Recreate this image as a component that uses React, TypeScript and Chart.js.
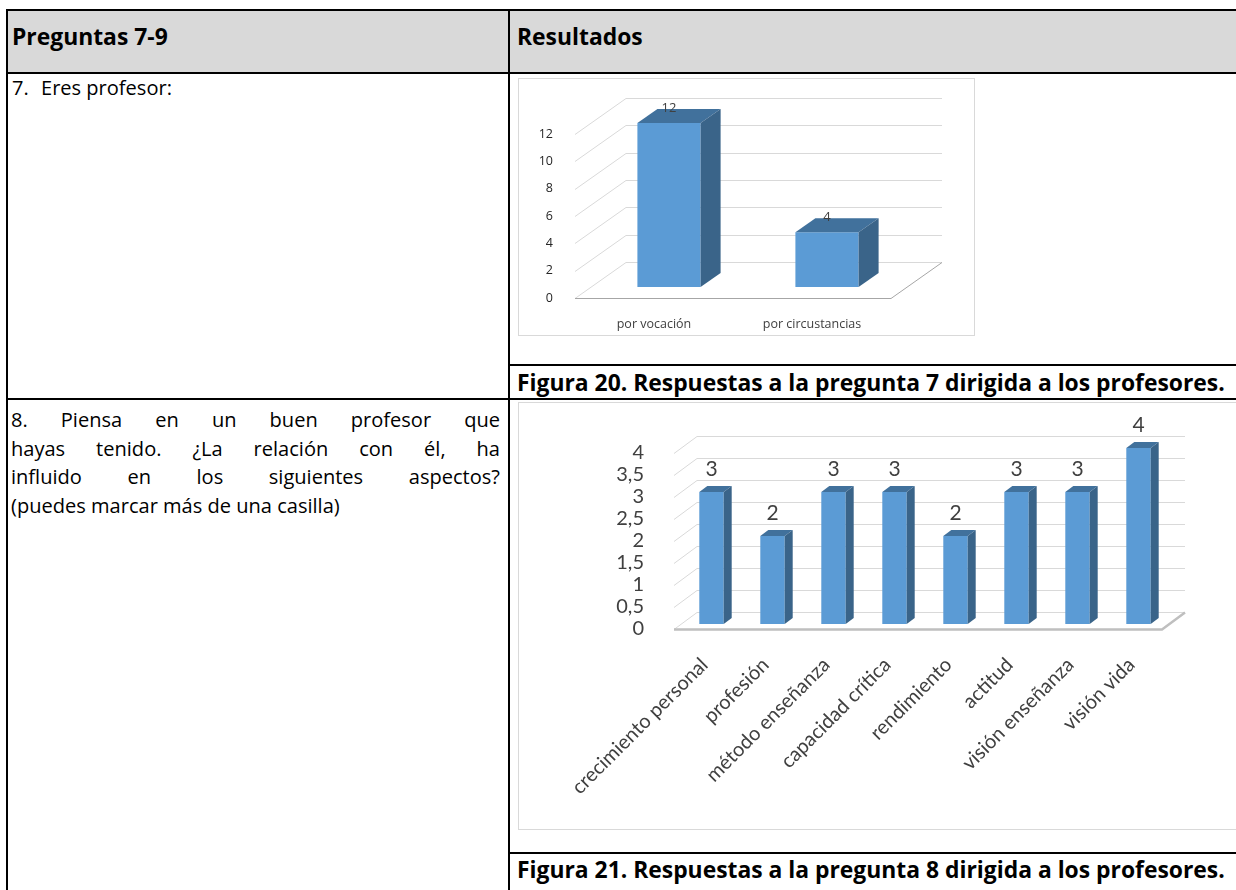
import React, { useEffect, useRef, useMemo } from 'react';
import { Chart, registerables } from 'chart.js';

Chart.register(...registerables);

// ---------- data ----------
const q7Categories = ['por vocación', 'por circustancias'];
const q7Values = [12, 4];
const q7Max = 12;
const q7Step = 2;

const q8Categories = [
  'crecimiento personal',
  'profesión',
  'método enseñanza',
  'capacidad crítica',
  'rendimiento',
  'actitud',
  'visión enseñanza',
  'visión vida',
];
const q8Values = [3, 2, 3, 3, 2, 3, 3, 4];
const q8Max = 4;
const q8Step = 0.5;

const headerLeft = 'Preguntas 7-9';
const headerRight = 'Resultados';
const q7Number = '7.';
const q7Text = 'Eres profesor:';
const q8Lines = [
  '8. Piensa en un buen profesor que',
  'hayas tenido. ¿La relación con él, ha',
  'influido en los siguientes aspectos?',
  '(puedes marcar más de una casilla)',
];
const caption20 = 'Figura 20. Respuestas a la pregunta 7 dirigida a los profesores.';
const caption21 = 'Figura 21. Respuestas a la pregunta 8 dirigida a los profesores.';

const CHART_FONT = 'Lato, "Open Sans", sans-serif';
const TEXT_FONT = '"Open Sans", Lato, sans-serif';

type Fake3D = {
  back: [number, number];
  barOff: [number, number];
  barDepth: [number, number];
  gridColor: string;
  floorColor: string;
  floorWidth: number;
  topColor: string;
  sideColor: string;
  labelFont: string;
  labelColor: string;
  labelGap: number;
  values: number[];
};

function makeFake3D(cfg: Fake3D) {
  return {
    id: 'fake3d',
    beforeDatasetsDraw(chart: any) {
      const { ctx, chartArea: a, scales } = chart;
      const y = scales.y;
      const [bx, by] = cfg.back;
      ctx.save();
      ctx.lineWidth = 1;
      ctx.strokeStyle = cfg.gridColor;
      for (const t of y.ticks) {
        const py = Math.round(y.getPixelForValue(t.value)) + 0.5;
        ctx.beginPath();
        ctx.moveTo(a.left, py);
        ctx.lineTo(a.left + bx, py + by);
        ctx.lineTo(a.right + bx, py + by);
        ctx.stroke();
      }
      const p0 = Math.round(y.getPixelForValue(0)) + 0.5;
      ctx.strokeStyle = cfg.floorColor;
      ctx.lineWidth = cfg.floorWidth;
      ctx.beginPath();
      ctx.moveTo(a.left, p0);
      ctx.lineTo(a.right, p0);
      ctx.lineTo(a.right + bx, p0 + by);
      ctx.stroke();
      ctx.restore();
      ctx.save();
      ctx.translate(cfg.barOff[0], cfg.barOff[1]);
    },
    afterDatasetsDraw(chart: any) {
      const { ctx } = chart;
      const meta = chart.getDatasetMeta(0);
      const [dx, dy] = cfg.barDepth;
      meta.data.forEach((bar: any, i: number) => {
        const { x, y, base, width } = bar.getProps(['x', 'y', 'base', 'width'], true);
        const l = x - width / 2;
        const r = x + width / 2;
        ctx.fillStyle = cfg.topColor;
        ctx.beginPath();
        ctx.moveTo(l, y);
        ctx.lineTo(l + dx, y + dy);
        ctx.lineTo(r + dx, y + dy);
        ctx.lineTo(r, y);
        ctx.closePath();
        ctx.fill();
        ctx.fillStyle = cfg.sideColor;
        ctx.beginPath();
        ctx.moveTo(r, y);
        ctx.lineTo(r + dx, y + dy);
        ctx.lineTo(r + dx, base + dy);
        ctx.lineTo(r, base);
        ctx.closePath();
        ctx.fill();
        ctx.fillStyle = cfg.labelColor;
        ctx.font = cfg.labelFont;
        ctx.textAlign = 'center';
        ctx.textBaseline = 'middle';
        ctx.fillText(String(cfg.values[i]), x, y - cfg.labelGap);
      });
      ctx.restore();
    },
  };
}

function fmt(v: number) {
  return String(v).replace('.', ',');
}

function Q7Chart() {
  const ref = useRef<HTMLCanvasElement>(null);
  useEffect(() => {
    const chart = new Chart(ref.current!, {
      type: 'bar',
      data: {
        labels: q7Categories,
        datasets: [
          {
            data: q7Values,
            backgroundColor: '#5B9BD5',
            barPercentage: 0.4,
            categoryPercentage: 1,
            clip: false as any,
          },
        ],
      },
      options: {
        responsive: false,
        animation: false,
        layout: { padding: { left: 0, top: 55, right: 83, bottom: 0 } },
        plugins: { legend: { display: false }, tooltip: { enabled: false } },
        scales: {
          x: {
            grid: { display: false },
            border: { display: false },
            ticks: { color: '#404040', font: { family: TEXT_FONT, size: 12.5 }, padding: 11, maxRotation: 0 },
            afterFit: (s: any) => { s.height = 37; },
          },
          y: {
            min: 0,
            max: q7Max,
            grid: { display: false },
            border: { display: false },
            ticks: { stepSize: q7Step, color: '#262626', font: { family: TEXT_FONT, size: 12.5 }, padding: 14, autoSkip: false, callback: (v: any) => fmt(v) },
            afterFit: (s: any) => { s.width = 56; },
          },
        },
      },
      plugins: [
        makeFake3D({
          back: [51, -36],
          barOff: [15, -11],
          barDepth: [20, -14],
          gridColor: '#d9d9d9',
          floorColor: '#a6a6a6',
          floorWidth: 1,
          topColor: '#41719C',
          sideColor: '#3A6489',
          labelFont: `13px ${TEXT_FONT}`,
          labelColor: '#404040',
          labelGap: 15,
          values: q7Values,
        }),
      ],
    } as any);
    return () => chart.destroy();
  }, []);
  return <canvas ref={ref} width={455} height={256} style={{ position: 'absolute', left: 519, top: 79, width: 455, height: 256 }} />;
}

function Q8Chart() {
  const ref = useRef<HTMLCanvasElement>(null);
  useEffect(() => {
    const chart = new Chart(ref.current!, {
      type: 'bar',
      data: {
        labels: q8Categories,
        datasets: [
          {
            data: q8Values,
            backgroundColor: '#5B9BD5',
            barPercentage: 0.4,
            categoryPercentage: 1,
            clip: false as any,
          },
        ],
      },
      options: {
        responsive: false,
        animation: false,
        layout: { padding: { left: 0, top: 50, right: 74, bottom: 0 } },
        plugins: { legend: { display: false }, tooltip: { enabled: false } },
        scales: {
          x: {
            grid: { display: false },
            border: { display: false },
            ticks: {
              color: '#404040',
              font: { family: CHART_FONT, size: 20 },
              padding: 16,
              minRotation: 45,
              maxRotation: 45,
              autoSkip: false,
            },
            afterFit: (s: any) => { s.height = 201; },
          },
          y: {
            min: 0,
            max: q8Max,
            grid: { display: false },
            border: { display: false },
            ticks: {
              stepSize: q8Step,
              autoSkip: false,
              color: '#404040',
              font: { family: CHART_FONT, size: 20 },
              padding: 22,
              callback: (v: any) => fmt(v),
            },
            afterFit: (s: any) => { s.width = 155; },
          },
        },
      },
      plugins: [
        makeFake3D({
          back: [23, -17],
          barOff: [7, -5],
          barDepth: [8, -6],
          gridColor: '#d9d9d9',
          floorColor: '#bfbfbf',
          floorWidth: 2.5,
          topColor: '#41719C',
          sideColor: '#3A6489',
          labelFont: `21px ${CHART_FONT}`,
          labelColor: '#404040',
          labelGap: 23,
          values: q8Values,
        }),
      ],
    } as any);
    return () => chart.destroy();
  }, []);
  return <canvas ref={ref} width={717} height={427} style={{ position: 'absolute', left: 519, top: 403, width: 717, height: 427 }} />;
}

const hLine = (x1: number, x2: number, y: number) => (
  <div style={{ position: 'absolute', left: x1 - 1, top: y - 1, width: x2 - x1 + 2, height: 2, background: '#000' }} />
);
const vLine = (x: number, y1: number, y2: number) => (
  <div style={{ position: 'absolute', left: x - 1, top: y1 - 1, width: 2, height: y2 - y1 + 2, background: '#000' }} />
);

function fitSize(text: string, weight: number, family: string, target: number, fallback: number) {
  try {
    const c = document.createElement('canvas').getContext('2d');
    if (!c) return fallback;
    c.font = `${weight} 100px ${family}`;
    const w = c.measureText(text).width;
    return w > 0 ? (100 * target) / w : fallback;
  } catch {
    return fallback;
  }
}

export default function App() {
  const boldSize = useMemo(() => fitSize(caption20, 700, TEXT_FONT, 708, 20), []);
  const bodySize = useMemo(() => fitSize(q8Lines[3], 400, TEXT_FONT, 329, 20), []);
  const textStyle: React.CSSProperties = {
    position: 'absolute',
    fontFamily: TEXT_FONT,
    fontSize: bodySize,
    color: '#000',
    whiteSpace: 'nowrap',
    lineHeight: '26px',
  };
  const bold: React.CSSProperties = { ...textStyle, fontSize: boldSize, fontWeight: 700 };
  return (
    <div style={{ position: 'absolute', left: 0, top: 0, width: 1236, height: 890, overflow: 'hidden', background: '#fff' }}>
      <div style={{ position: 'absolute', left: 8, top: 11, width: 1240, height: 61, background: '#d9d9d9' }} />
      <div style={{ ...bold, left: 12, top: 37 - 13 }}>{headerLeft}</div>
      <div style={{ ...bold, left: 517, top: 37 - 13 }}>{headerRight}</div>

      <div style={{ ...textStyle, left: 12, top: 88 - 13 }}>{q7Number}</div>
      <div style={{ ...textStyle, left: 41, top: 88 - 13 }}>{q7Text}</div>

      {q8Lines.map((line, i) => (
        <div
          key={i}
          style={{
            ...textStyle,
            left: 11,
            width: 489,
            top: 420 + i * 28.7 - 13,
            whiteSpace: 'normal',
            textAlign: i < q8Lines.length - 1 ? 'justify' : 'left',
            textAlignLast: i < q8Lines.length - 1 ? 'justify' : 'left',
          } as React.CSSProperties}
        >
          {line}
        </div>
      ))}

      <div style={{ position: 'absolute', left: 518, top: 78, width: 457, height: 258, border: '1px solid #d9d9d9', boxSizing: 'border-box' }} />
      <Q7Chart />
      <div style={{ ...bold, left: 517, top: 383 - 13 }}>{caption20}</div>

      <div style={{ position: 'absolute', left: 518, top: 402, width: 730, height: 428, border: '1px solid #d9d9d9', boxSizing: 'border-box' }} />
      <Q8Chart />
      <div style={{ ...bold, left: 517, top: 870 - 13 }}>{caption21}</div>

      {hLine(7, 1236, 10)}
      {hLine(7, 1236, 73)}
      {hLine(509, 1236, 365)}
      {hLine(7, 1236, 399)}
      {hLine(509, 1236, 853)}
      {vLine(7, 10, 890)}
      {vLine(509, 10, 890)}
    </div>
  );
}
